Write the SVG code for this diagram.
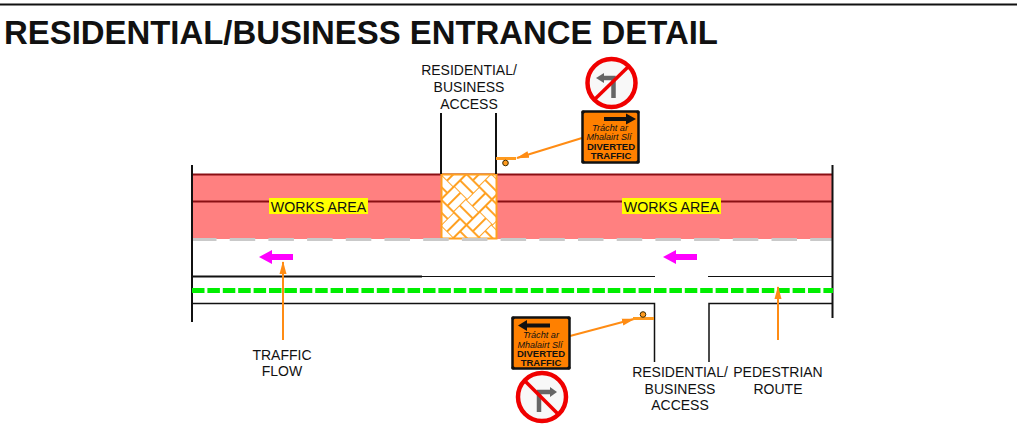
<svg xmlns="http://www.w3.org/2000/svg" width="1017" height="428" viewBox="0 0 1017 428">
<style>
text{font-family:"Liberation Sans",Arial,sans-serif;fill:#111}
.lab{font-size:14px;text-anchor:middle}
.wa{font-size:14.200px;text-anchor:middle}
.k{stroke:#111;fill:none;stroke-linecap:butt}
.o{stroke:#ff8c14;stroke-width:2;fill:none}
.of{stroke:#ff9a1e;stroke-width:3;fill:none}
.sgn{font-size:8.500px;text-anchor:middle;font-style:italic}
.sgb{font-size:9.500px;text-anchor:middle;font-weight:bold}
.bolt{fill:#111}
</style>
<defs>
<marker id="ah" markerUnits="userSpaceOnUse" markerWidth="14" markerHeight="10" refX="12" refY="5" orient="auto"><path d="M0 1.500L13 5L0 8.500Z" fill="#ff8c14"/></marker>
<pattern id="hatch" width="36" height="36" patternUnits="userSpaceOnUse" patternTransform="translate(441 174) rotate(-45)">
<path stroke="#ffa020" stroke-width="1.900" fill="none" d="M0 0H18M0 9H18M0 18H18M18 0V18M27 0V18M36 0V18M0 18V36M9 18V36M18 18V36M18 18H36M18 27H36M18 36H36"/>
</pattern>
</defs>
<path d="M0 4.500H1017" stroke="#111" stroke-width="2"/>
<text x="4" y="44" font-size="32.900" font-weight="bold">RESIDENTIAL/BUSINESS ENTRANCE DETAIL</text>
<g id="works">
<rect x="192" y="174" width="640" height="65" fill="#ff8080"/>
<path d="M192 174.500H832M192 201.500H832" stroke="#8a0f14" stroke-width="1.800"/>
<rect x="441.500" y="174.500" width="55" height="64" fill="#fff"/>
<rect x="441.500" y="174.500" width="55" height="64" fill="url(#hatch)" stroke="#ffa020" stroke-width="2"/>
<rect x="269" y="198" width="99" height="16" fill="#ffff00"/>
<text class="wa" x="318.500" y="211.500">WORKS AREA</text>
<rect x="622" y="198" width="99" height="16" fill="#ffff00"/>
<text class="wa" x="671.500" y="211.500">WORKS AREA</text>
</g>
<g id="connectors">
<path d="M191 239.500H833" stroke="#c9c9c9" stroke-width="3" stroke-dasharray="25.500 13.200"/>
<path class="k" stroke-width="2" d="M192 165V322M832.500 165V318M441 113V174M496 113V174"/>
<path class="k" stroke-width="2" d="M192 276.500H422"/>
<path class="k" stroke-width="1.200" d="M422 276.500H655M708 276.500H832"/>
<path d="M192 290.500H833" stroke="#00ee00" stroke-width="5" stroke-dasharray="12.500 2.900"/>
<path class="k" stroke-width="1.500" d="M192 303.500H654.500V362M709 362V303.500H832"/>
<path d="M283 340V262" class="o" marker-end="url(#ah)"/>
<path d="M778 340V287" class="o" marker-end="url(#ah)"/>
<path d="M582 138L517 158" class="o" marker-end="url(#ah)"/>
<path d="M496 158.500H516" class="of"/>
<path d="M570 336L634 319" class="o" marker-end="url(#ah)"/>
<path d="M633 318.500H654" class="of"/>
<circle cx="505.500" cy="163" r="2.800" fill="#ff9a1e" stroke="#3a2a00"/>
<circle cx="643" cy="314.500" r="2.800" fill="#ff9a1e" stroke="#3a2a00"/>
</g>
<g id="flow-arrows" fill="#ff00ff">
<path id="a1" d="M259 257L272 250V254H293V260H272V264Z"/>
<path id="a2" d="M663 257L676 250V254H697V260H676V264Z"/>
</g>
<g id="sign-top">
<circle cx="611.500" cy="83" r="24" fill="#f8f8f8" stroke="#f00000" stroke-width="4.500"/>
<path d="M613.500 98V78H603" stroke="#666" stroke-width="4.500" fill="none"/>
<path d="M604 73L596 78L604 83Z" fill="#666"/>
<path d="M594 100L629 66" stroke="#f00000" stroke-width="3.500"/>
<rect x="582.500" y="111.500" width="56" height="51" rx="2" fill="#ff8000" stroke="#111" stroke-width="2.500"/>
<circle class="bolt" cx="583" cy="112" r="1.800"/><circle class="bolt" cx="638" cy="112" r="1.800"/><circle class="bolt" cx="583" cy="162" r="1.800"/><circle class="bolt" cx="638" cy="162" r="1.800"/>
<path d="M604 119H628" stroke="#111" stroke-width="4"/><path d="M626 113.500L636 119L626 124.500Z" fill="#111"/>
<text class="sgn" x="610" y="130.500" textLength="36" lengthAdjust="spacingAndGlyphs">Trácht ar</text>
<text class="sgn" x="609" y="140" textLength="45" lengthAdjust="spacingAndGlyphs">Mhalairt Slí</text>
<text class="sgb" x="611" y="150">DIVERTED</text>
<text class="sgb" x="611" y="159">TRAFFIC</text>
</g>
<g id="sign-bottom">
<circle cx="542" cy="397" r="24" fill="#f8f8f8" stroke="#f00000" stroke-width="4.500"/>
<path d="M539 412V392H551" stroke="#666" stroke-width="4.500" fill="none"/>
<path d="M550 387L557 392L550 397Z" fill="#666"/>
<path d="M525 381L558 414" stroke="#f00000" stroke-width="3.500"/>
<rect x="512.500" y="317.500" width="57" height="51" rx="2" fill="#ff8000" stroke="#111" stroke-width="2.500"/>
<circle class="bolt" cx="513" cy="318" r="1.800"/><circle class="bolt" cx="569" cy="318" r="1.800"/><circle class="bolt" cx="513" cy="368" r="1.800"/><circle class="bolt" cx="569" cy="368" r="1.800"/>
<path d="M526 325.500H550" stroke="#111" stroke-width="4"/><path d="M527 320L518 325.500L527 331Z" fill="#111"/>
<text class="sgn" x="541" y="338" textLength="36" lengthAdjust="spacingAndGlyphs">Trácht ar</text>
<text class="sgn" x="540" y="347.500" textLength="45" lengthAdjust="spacingAndGlyphs">Mhalairt Slí</text>
<text class="sgb" x="541" y="357">DIVERTED</text>
<text class="sgb" x="541" y="366">TRAFFIC</text>
</g>
<g id="labels">
<text class="lab" x="469" y="75">RESIDENTIAL/</text>
<text class="lab" x="469" y="92">BUSINESS</text>
<text class="lab" x="469" y="109">ACCESS</text>
<text class="lab" x="282" y="360">TRAFFIC</text>
<text class="lab" x="282" y="376">FLOW</text>
<text class="lab" x="680" y="377">RESIDENTIAL/</text>
<text class="lab" x="680" y="394">BUSINESS</text>
<text class="lab" x="680" y="410">ACCESS</text>
<text class="lab" x="778" y="377">PEDESTRIAN</text>
<text class="lab" x="778" y="394">ROUTE</text>
</g>
</svg>
